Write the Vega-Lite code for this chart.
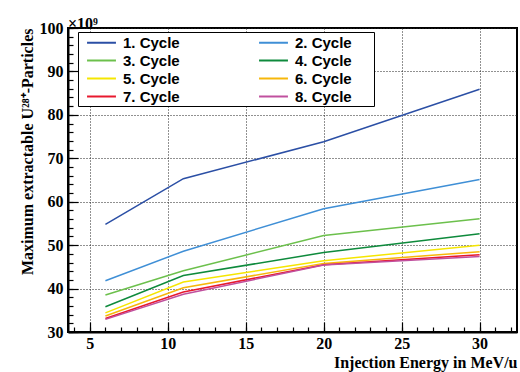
{
  "$schema": "https://vega.github.io/schema/vega-lite/v6.json",
  "width": 449,
  "height": 304,
  "autosize": "none",
  "padding": {"left": 68, "top": 28, "right": 3, "bottom": 40},
  "background": "white",
  "title": {
    "text": "×10⁹",
    "anchor": "start",
    "frame": "group",
    "font": "Liberation Serif",
    "fontSize": 16,
    "fontWeight": "bold",
    "color": "black",
    "offset": 0,
    "dy": 12
  },
  "config": {
    "view": {"stroke": "black", "strokeWidth": 2},
    "axis": {
      "domainColor": "black",
      "domainWidth": 2,
      "tickColor": "black",
      "tickWidth": 1.2,
      "gridColor": "#222",
      "gridDash": [1, 2],
      "gridWidth": 1,
      "labelColor": "black",
      "labelFont": "Liberation Serif",
      "labelFontWeight": "bold",
      "labelFontSize": 16,
      "titleColor": "black",
      "titleFont": "Liberation Serif",
      "titleFontWeight": "bold",
      "titleFontSize": 16,
      "labelOverlap": false,
      "labelFlush": false
    }
  },
  "data": {
    "values": [
      {"cycle": "1. Cycle", "energy": 6, "value": 54.8},
      {"cycle": "1. Cycle", "energy": 11, "value": 65.3},
      {"cycle": "1. Cycle", "energy": 20, "value": 73.8},
      {"cycle": "1. Cycle", "energy": 30, "value": 85.9},
      {"cycle": "2. Cycle", "energy": 6, "value": 41.8},
      {"cycle": "2. Cycle", "energy": 11, "value": 48.6},
      {"cycle": "2. Cycle", "energy": 20, "value": 58.4},
      {"cycle": "2. Cycle", "energy": 30, "value": 65.1},
      {"cycle": "3. Cycle", "energy": 6, "value": 38.5},
      {"cycle": "3. Cycle", "energy": 11, "value": 44.1},
      {"cycle": "3. Cycle", "energy": 20, "value": 52.2},
      {"cycle": "3. Cycle", "energy": 30, "value": 56.1},
      {"cycle": "4. Cycle", "energy": 6, "value": 35.8},
      {"cycle": "4. Cycle", "energy": 11, "value": 43.0},
      {"cycle": "4. Cycle", "energy": 20, "value": 48.3},
      {"cycle": "4. Cycle", "energy": 30, "value": 52.6},
      {"cycle": "5. Cycle", "energy": 6, "value": 34.4},
      {"cycle": "5. Cycle", "energy": 11, "value": 41.5},
      {"cycle": "5. Cycle", "energy": 20, "value": 46.4},
      {"cycle": "5. Cycle", "energy": 30, "value": 50.0},
      {"cycle": "6. Cycle", "energy": 6, "value": 33.7},
      {"cycle": "6. Cycle", "energy": 11, "value": 40.2},
      {"cycle": "6. Cycle", "energy": 20, "value": 45.8},
      {"cycle": "6. Cycle", "energy": 30, "value": 48.5},
      {"cycle": "7. Cycle", "energy": 6, "value": 33.1},
      {"cycle": "7. Cycle", "energy": 11, "value": 39.2},
      {"cycle": "7. Cycle", "energy": 20, "value": 45.5},
      {"cycle": "7. Cycle", "energy": 30, "value": 47.8},
      {"cycle": "8. Cycle", "energy": 6, "value": 32.9},
      {"cycle": "8. Cycle", "energy": 11, "value": 38.7},
      {"cycle": "8. Cycle", "energy": 20, "value": 45.4},
      {"cycle": "8. Cycle", "energy": 30, "value": 47.4}
    ]
  },
  "layer": [
    {
      "mark": {"type": "line", "strokeOpacity": 0},
      "encoding": {
        "x": {
          "field": "energy",
          "type": "quantitative",
          "scale": {"domain": [3.6, 32.4], "nice": false, "zero": false},
          "axis": {
            "orient": "bottom",
            "values": [4,5,6,7,8,9,10,11,12,13,14,15,16,17,18,19,20,21,22,23,24,25,26,27,28,29,30,31,32],
            "tickSize": -5,
            "labels": false,
            "grid": false,
            "domain": false,
            "title": null
          }
        },
        "y": {
          "field": "value",
          "type": "quantitative",
          "scale": {"domain": [30, 100], "nice": false, "zero": false},
          "axis": {
            "orient": "left",
            "values": [30,32,34,36,38,40,42,44,46,48,50,52,54,56,58,60,62,64,66,68,70,72,74,76,78,80,82,84,86,88,90,92,94,96,98,100],
            "tickSize": -5,
            "labels": false,
            "grid": false,
            "domain": false,
            "title": null
          }
        }
      }
    },
    {
      "mark": {"type": "line", "strokeWidth": 1.5},
      "encoding": {
        "x": {
          "field": "energy",
          "type": "quantitative",
          "axis": {
            "orient": "bottom",
            "values": [5, 10, 15, 20, 25, 30],
            "tickSize": -10,
            "grid": true,
            "labelPadding": 13,
            "title": "Injection Energy in MeV/u",
            "titleAnchor": "end",
            "titlePadding": 3
          }
        },
        "y": {
          "field": "value",
          "type": "quantitative",
          "axis": {
            "orient": "left",
            "values": [30, 40, 50, 60, 70, 80, 90, 100],
            "tickSize": -10,
            "grid": true,
            "labelPadding": 15,
            "title": "Maximum extractable U²⁸⁺-Particles",
            "titleAnchor": "end",
            "titlePadding": 4
          }
        },
        "color": {
          "field": "cycle",
          "type": "nominal",
          "scale": {
            "domain": ["1. Cycle", "2. Cycle", "3. Cycle", "4. Cycle", "5. Cycle", "6. Cycle", "7. Cycle", "8. Cycle"],
            "range": ["#2B4FA5", "#3F8FD6", "#6CC04C", "#0E8A3C", "#F5E600", "#F6B70A", "#E8192E", "#C0509E"]
          },
          "legend": {
            "orient": "none",
            "legendX": 10,
            "legendY": 4,
            "columns": 2,
            "direction": "horizontal",
            "title": null,
            "symbolType": "M-1.7,0H1.7",
            "symbolSize": 289,
            "symbolStrokeWidth": 2,
            "symbolOffset": 13,
            "labelOffset": 12,
            "labelFont": "Liberation Sans",
            "labelFontWeight": "bold",
            "labelFontSize": 15,
            "labelColor": "black",
            "labelExpr": "indexof(['2. Cycle','4. Cycle','6. Cycle','8. Cycle'], datum.label) >= 0 ? datum.label + '\u00a0\u00a0\u00a0\u00a0\u00a0\u200b' : datum.label",
            "columnPadding": 71,
            "rowPadding": 0,
            "padding": 1,
            "strokeColor": "black",
            "fillColor": "white",
            "cornerRadius": 0
          }
        }
      }
    }
  ],
  "resolve": {"axis": {"x": "independent", "y": "independent"}}
}
